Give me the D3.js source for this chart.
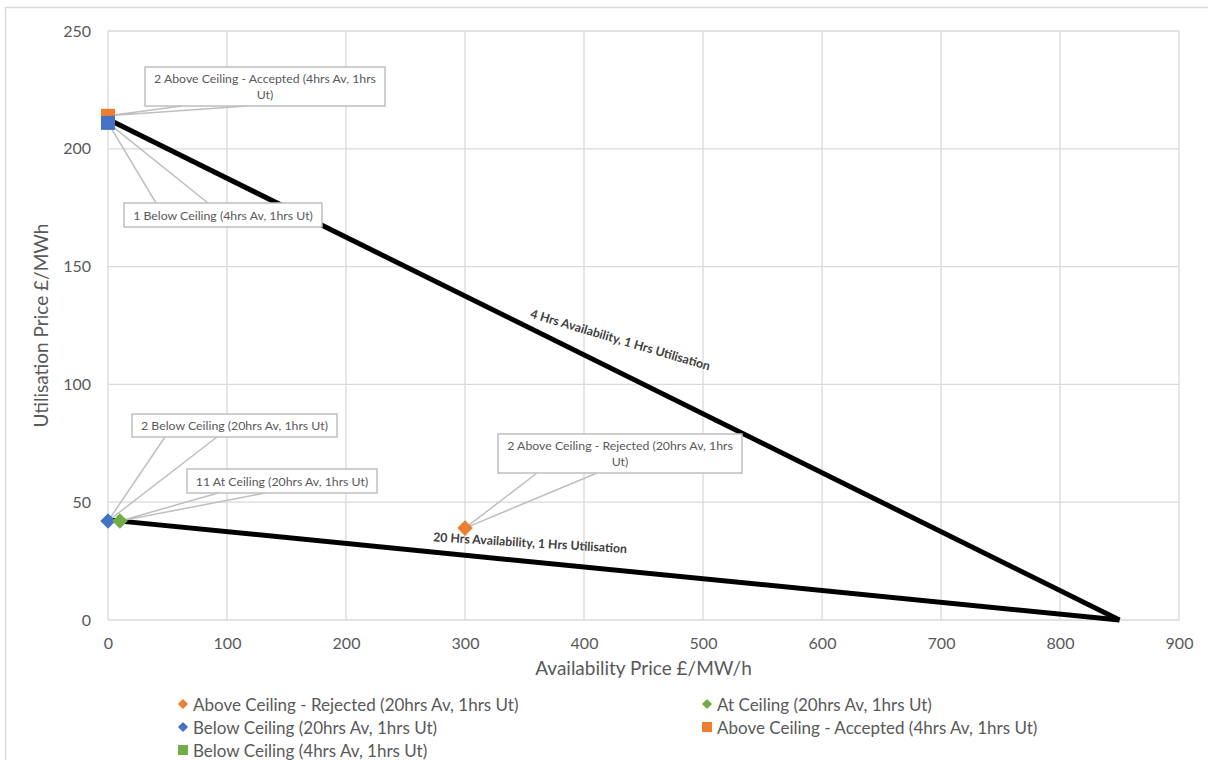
<!DOCTYPE html>
<html>
<head>
<meta charset="utf-8">
<script src="https://cdn.jsdelivr.net/npm/d3@7/dist/d3.min.js"></script>
<style>
  html, body { margin: 0; padding: 0; background: #fff; }
  svg { display: block; font-family: Lato, "Liberation Sans", sans-serif; }
</style>
</head>
<body>
<svg id="chart" width="1208" height="760"></svg>
<script>
// Axis ticks
const xTicks = [0, 100, 200, 300, 400, 500, 600, 700, 800, 900];
const yTicks = [0, 50, 100, 150, 200, 250];

// Price ceiling lines (availability £/MW/h, utilisation £/MWh)
const ceiling4hrs = [[0, 212.5], [850, 0]];
const ceiling20hrs = [[0, 42.5], [850, 0]];

// Bid points
const rejected20 = [[300, 39]];
const atCeiling20 = [[10, 42]];
const below20 = [[0, 42]];
const accepted4 = [[0, 214]];
const below4 = [[0, 211]];

const seriesNames = [
  "Above Ceiling - Rejected (20hrs Av, 1hrs Ut)",
  "At Ceiling (20hrs Av, 1hrs Ut)",
  "Below Ceiling (20hrs Av, 1hrs Ut)",
  "Above Ceiling - Accepted (4hrs Av, 1hrs Ut)",
  "Below Ceiling (4hrs Av, 1hrs Ut)"
];

const svg = d3.select("#chart");
const W = 1208, H = 760;
const plot = { left: 108, right: 1179, top: 31, bottom: 620 };

const x = d3.scaleLinear().domain([0, 900]).range([plot.left, plot.right]);
const y = d3.scaleLinear().domain([0, 250]).range([plot.bottom, plot.top]);

const ORANGE = "#ED7D31", BLUE = "#4472C4", GREEN = "#70AD47";
const TEXT = "#595959", GRID = "#d9d9d9", CALLOUT = "#bfbfbf";

// Chart frame
svg.append("rect").attr("x", 5.5).attr("y", 7.5).attr("width", W).attr("height", H)
  .attr("fill", "#fff").attr("stroke", GRID).attr("stroke-width", 1.5);

// Gridlines
const g = svg.append("g");
g.selectAll(".vgrid").data(xTicks).join("line")
  .attr("x1", d => x(d)).attr("x2", d => x(d))
  .attr("y1", plot.top).attr("y2", plot.bottom)
  .attr("stroke", GRID).attr("stroke-width", 1.3);
g.selectAll(".hgrid").data(yTicks).join("line")
  .attr("x1", plot.left).attr("x2", plot.right)
  .attr("y1", d => y(d)).attr("y2", d => y(d))
  .attr("stroke", GRID).attr("stroke-width", 1.3);

// Axes (labels only; lines come from the grid)
const xAxis = svg.append("g").attr("transform", `translate(0,${plot.bottom})`)
  .call(d3.axisBottom(x).tickValues(xTicks).tickSize(0).tickPadding(17).tickFormat(d3.format("d")));
const yAxis = svg.append("g").attr("transform", `translate(${plot.left},0)`)
  .call(d3.axisLeft(y).tickValues(yTicks).tickSize(0).tickPadding(17).tickFormat(d3.format("d")));
[xAxis, yAxis].forEach(a => {
  a.select(".domain").remove();
  a.selectAll("text").attr("fill", TEXT).attr("font-size", 16).attr("font-family", "Lato, sans-serif");
});
xAxis.selectAll("text").attr("dy", "0.75em");

// Axis titles
svg.append("text").attr("x", (plot.left + plot.right) / 2).attr("y", 675)
  .attr("text-anchor", "middle").attr("fill", TEXT).attr("font-size", 19)
  .text("Availability Price £/MW/h");
svg.append("text").attr("transform", `translate(48,${(plot.top + plot.bottom) / 2}) rotate(-90)`)
  .attr("text-anchor", "middle").attr("fill", TEXT).attr("font-size", 19)
  .text("Utilisation Price £/MWh");

// Ceiling lines
const line = d3.line().x(d => x(d[0])).y(d => y(d[1]));
[ceiling4hrs, ceiling20hrs].forEach(pts => {
  svg.append("path").attr("d", line(pts)).attr("fill", "none")
    .attr("stroke", "#000").attr("stroke-width", 5).attr("stroke-linecap", "butt");
});

// Ceiling line labels
function lineLabel(txt, cx, cy, angle) {
  svg.append("text").attr("transform", `translate(${cx},${cy}) rotate(${angle})`)
    .attr("text-anchor", "middle").attr("dominant-baseline", "middle")
    .attr("font-size", 12.3).attr("font-weight", "bold").attr("fill", "#404040")
    .text(txt);
}
lineLabel("4 Hrs Availability, 1 Hrs Utilisation", 620, 341, 16.5);
lineLabel("20 Hrs Availability, 1 Hrs Utilisation", 530, 544, 3.5);

// Callouts: box in pixels, leader wedge to the point
function callout(pt, box, lines, baseSide, baseX) {
  const px = x(pt[0]), py = y(pt[1]);
  const gc = svg.append("g");
  const by = baseSide === "bottom" ? box.y + box.h : box.y;
  gc.append("rect").attr("x", box.x).attr("y", box.y).attr("width", box.w).attr("height", box.h)
    .attr("fill", "#fff").attr("stroke", CALLOUT).attr("stroke-width", 1.5);
  gc.append("path")
    .attr("d", `M${baseX[0]},${by} L${px},${py} L${baseX[1]},${by}`)
    .attr("fill", "none").attr("stroke", CALLOUT).attr("stroke-width", 1.5);
  const lh = 16;
  const startY = box.y + box.h / 2 - (lines.length - 1) * lh / 2;
  lines.forEach((t, i) => {
    gc.append("text").attr("x", box.x + box.w / 2).attr("y", startY + i * lh)
      .attr("text-anchor", "middle").attr("dominant-baseline", "central")
      .attr("font-size", 12.3).attr("fill", TEXT).text(t);
  });
}

// Markers
function diamond(pts, color) {
  svg.selectAll(null).data(pts).join("rect")
    .attr("x", -5.5).attr("y", -5.5).attr("width", 11).attr("height", 11)
    .attr("transform", d => `translate(${x(d[0])},${y(d[1])}) rotate(45)`)
    .attr("fill", color);
}
function square(pts, color) {
  svg.selectAll(null).data(pts).join("rect")
    .attr("x", d => x(d[0]) - 7).attr("y", d => y(d[1]) - 7)
    .attr("width", 14).attr("height", 14).attr("fill", color);
}

callout(accepted4[0], { x: 145, y: 67, w: 240, h: 39 },
  ["2 Above Ceiling - Accepted (4hrs Av, 1hrs", "Ut)"], "bottom", [182, 247]);
callout(below4[0], { x: 124, y: 203, w: 198, h: 24 },
  ["1 Below Ceiling (4hrs Av, 1hrs Ut)"], "top", [156, 208]);
callout(below20[0], { x: 132, y: 414, w: 205, h: 23 },
  ["2 Below Ceiling (20hrs Av, 1hrs Ut)"], "bottom", [165, 217]);
callout(atCeiling20[0], { x: 187, y: 469, w: 190, h: 24 },
  ["11 At Ceiling (20hrs Av, 1hrs Ut)"], "bottom", [218, 265]);
callout(rejected20[0], { x: 498, y: 434, w: 244, h: 39 },
  ["2 Above Ceiling - Rejected (20hrs Av, 1hrs", "Ut)"], "bottom", [537, 597]);

square(accepted4, ORANGE);
square(below4, BLUE);
diamond(below20, BLUE);
diamond(atCeiling20, GREEN);
diamond(rejected20, ORANGE);

// Legend
const legendItems = [
  { name: seriesNames[0], shape: "diamond", color: ORANGE, col: 0, row: 0 },
  { name: seriesNames[1], shape: "diamond", color: GREEN, col: 1, row: 0 },
  { name: seriesNames[2], shape: "diamond", color: BLUE, col: 0, row: 1 },
  { name: seriesNames[3], shape: "square", color: ORANGE, col: 1, row: 1 },
  { name: seriesNames[4], shape: "square", color: GREEN, col: 0, row: 2 }
];
const colX = [183, 707], rowY = [704, 727, 750];
const lg = svg.append("g");
legendItems.forEach(it => {
  const cx = colX[it.col], cy = rowY[it.row];
  if (it.shape === "diamond") {
    lg.append("rect").attr("x", -3.6).attr("y", -3.6).attr("width", 7.2).attr("height", 7.2)
      .attr("transform", `translate(${cx},${cy}) rotate(45)`).attr("fill", it.color);
  } else {
    lg.append("rect").attr("x", cx - 5).attr("y", cy - 5).attr("width", 10).attr("height", 10)
      .attr("fill", it.color);
  }
  lg.append("text").attr("x", cx + 10).attr("y", cy).attr("dominant-baseline", "central")
    .attr("font-size", 17).attr("fill", TEXT).text(it.name);
});
</script>
</body>
</html>
